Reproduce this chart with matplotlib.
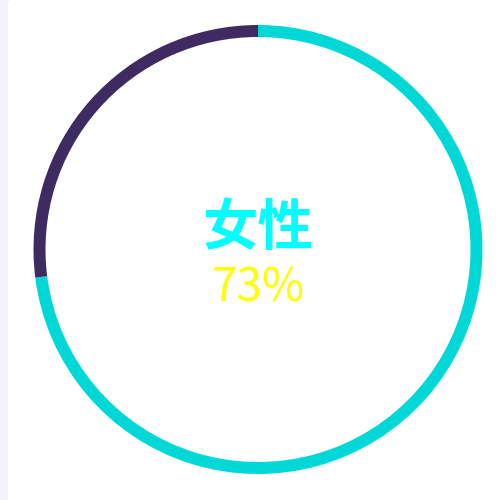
import matplotlib.pyplot as plt
from matplotlib.patches import FancyBboxPatch

# share of the ring: female first (clockwise from top), rest after
labels = ['女性', '其他']
shares = [73, 27]
ring_colors = ['#00d8d8', '#3e2b62']
title = '女性'
value_text = '73%'

fig = plt.figure(figsize=(5, 5), dpi=100)
fig.patch.set_facecolor('#f2f3f8')
ax = fig.add_axes([0, 0, 1, 1])

# white card on the light gray page
card = FancyBboxPatch((8, -10), 520, 510, boxstyle='round,pad=0,rounding_size=4',
                      facecolor='white', edgecolor='none', zorder=0)
ax.add_patch(card)

ax.pie(shares, colors=ring_colors, startangle=90, counterclock=False,
       center=(258, 250.5), radius=224.5,
       wedgeprops=dict(width=12, edgecolor='none', linewidth=0))

ax.text(258, 271, title, color='#00ffff', fontsize=40, fontweight='bold',
        ha='center', va='center', family=['Noto Sans CJK SC', 'DejaVu Sans'])
ax.text(258, 212, value_text, color='#ffff00', fontsize=33,
        ha='center', va='center', family=['Noto Sans CJK SC', 'DejaVu Sans'])

ax.set_xlim(0, 500)
ax.set_ylim(0, 500)
ax.set_aspect('auto')
ax.axis('off')

fig.savefig('out.png', dpi=100, facecolor=fig.get_facecolor())
